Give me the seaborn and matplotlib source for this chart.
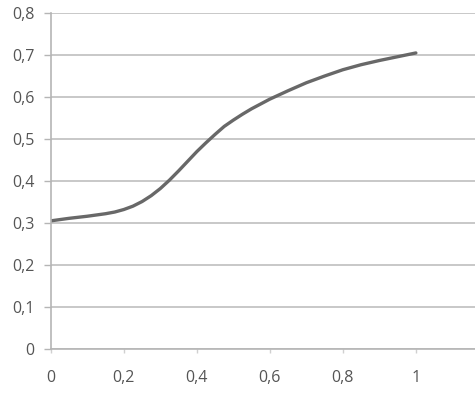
import pandas as pd
import matplotlib
matplotlib.use("Agg")
import matplotlib.pyplot as plt
import seaborn as sns
from matplotlib.ticker import FuncFormatter

# values
x_vals = [0.00, 0.05, 0.10, 0.15, 0.175, 0.20, 0.225, 0.25, 0.275, 0.30, 0.325, 0.35, 0.375,
          0.40, 0.425, 0.45, 0.475, 0.50, 0.525, 0.55, 0.60, 0.65, 0.70, 0.75, 0.80,
          0.85, 0.90, 0.95, 1.00]
y_vals = [0.305, 0.311, 0.316, 0.322, 0.326, 0.332, 0.340, 0.351, 0.365, 0.382, 0.402, 0.424, 0.447,
          0.470, 0.491, 0.511, 0.530, 0.545, 0.559, 0.572, 0.595, 0.615, 0.634, 0.650, 0.665,
          0.677, 0.687, 0.696, 0.705]
x_ticks = [0, 0.2, 0.4, 0.6, 0.8, 1.0]
y_ticks = [0, 0.1, 0.2, 0.3, 0.4, 0.5, 0.6, 0.7, 0.8]

df = pd.DataFrame({"x": x_vals, "y": y_vals})

sns.set_style("white")
plt.rcParams["font.family"] = ["Open Sans", "DejaVu Sans"]

fig = plt.figure(figsize=(4.75, 3.96), dpi=100)
ax = fig.add_axes([0.107, 0.119, 0.893, 0.848])

sns.lineplot(data=df, x="x", y="y", ax=ax, color="#686868", linewidth=2.4)

ax.set_xlim(0, 1.162)
ax.set_ylim(0, 0.8)
ax.set_xticks(x_ticks)
ax.set_yticks(y_ticks)

fmt = FuncFormatter(lambda v, p: ("%g" % v).replace(".", ","))
ax.xaxis.set_major_formatter(fmt)
ax.yaxis.set_major_formatter(fmt)

ax.yaxis.grid(True, color="#c4c4c4", linewidth=1.3)
ax.xaxis.grid(False)
ax.set_axisbelow(True)

for s in ["top", "right"]:
    ax.spines[s].set_visible(False)
for s in ["left", "bottom"]:
    ax.spines[s].set_color("#b5b5b5")
    ax.spines[s].set_linewidth(1.2)

ax.tick_params(axis="y", length=5, width=1, color="#b5b5b5", pad=7,
               labelsize=11.5, labelcolor="#555555", left=True)
ax.tick_params(axis="x", length=3, width=1, color="#d0d0d0", pad=12,
               labelsize=11.5, labelcolor="#555555", bottom=True)
ax.set_xlabel("")
ax.set_ylabel("")

fig.savefig("out.png", dpi=100)
